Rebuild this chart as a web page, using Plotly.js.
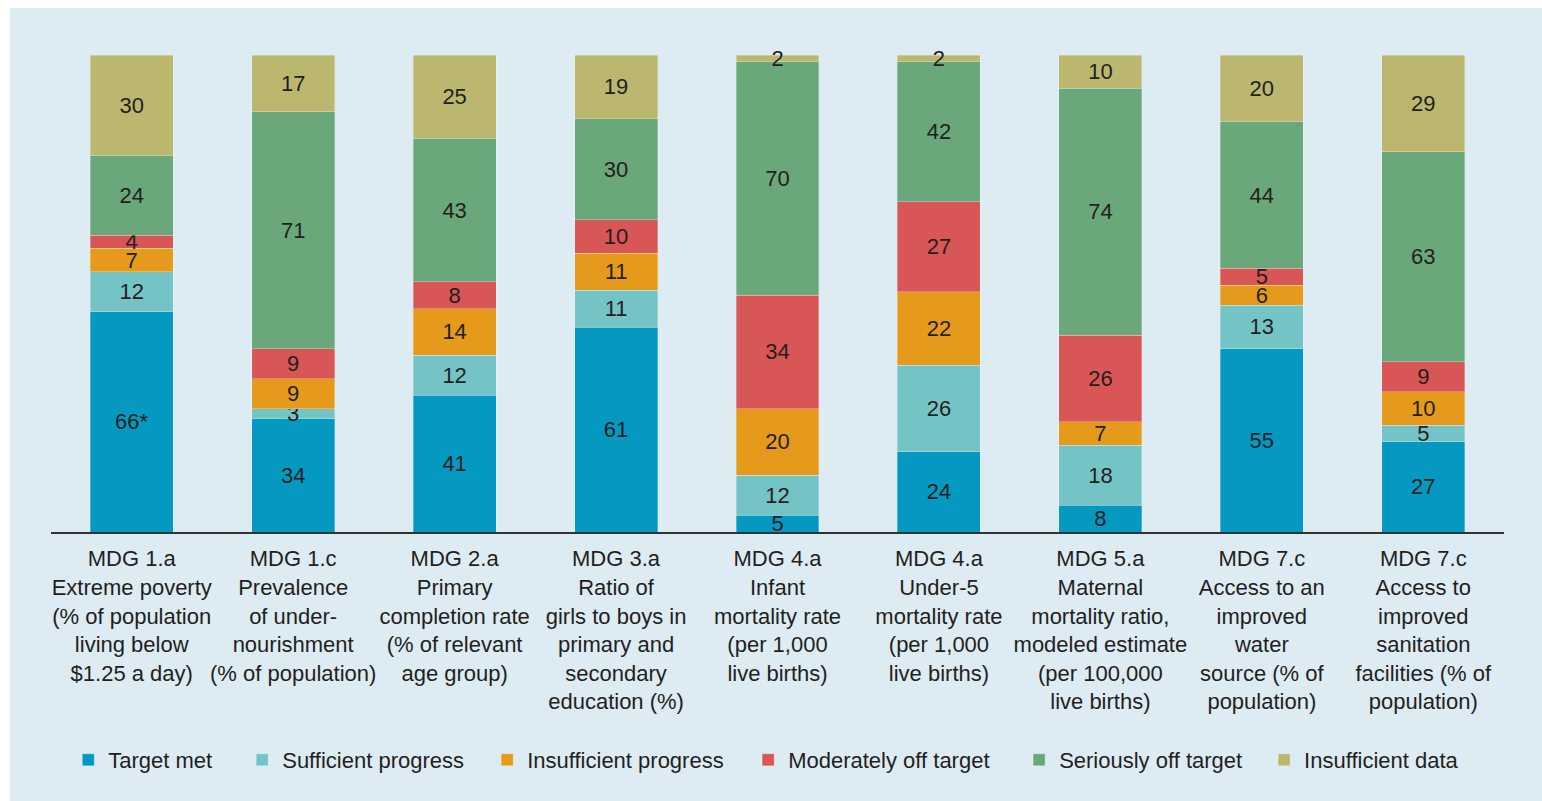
<!DOCTYPE html>
<html>
<head>
<meta charset="utf-8">
<script src="https://cdn.plot.ly/plotly-3.0.1.min.js"></script>
<style>
  html, body { margin: 0; padding: 0; background: #ffffff; }
  #chart { position: absolute; left: 10px; top: 8px; width: 1532px; height: 793px; }
</style>
</head>
<body>
<div id="chart"></div>
<script>
const categories = [
  "MDG 1.a<br>Extreme poverty<br>(% of population<br>living below<br>$1.25 a day)",
  "MDG 1.c<br>Prevalence<br>of under-<br>nourishment<br>(% of population)",
  "MDG 2.a<br>Primary<br>completion rate<br>(% of relevant<br>age group)",
  "MDG 3.a<br>Ratio of<br>girls to boys in<br>primary and<br>secondary<br>education (%)",
  "MDG 4.a<br>Infant<br>mortality rate<br>(per 1,000<br>live births)",
  "MDG 4.a<br>Under-5<br>mortality rate<br>(per 1,000<br>live births)",
  "MDG 5.a<br>Maternal<br>mortality ratio,<br>modeled estimate<br>(per 100,000<br>live births)",
  "MDG 7.c<br>Access to an<br>improved<br>water<br>source (% of<br>population)",
  "MDG 7.c<br>Access to<br>improved<br>sanitation<br>facilities (% of<br>population)"
];

const seriesNames = ["Target met", "Sufficient progress", "Insufficient progress",
                     "Moderately off target", "Seriously off target", "Insufficient data"];

const targetMet            = [66, 34, 41, 61,  5, 24,  8, 55, 27];
const sufficientProgress   = [12,  3, 12, 11, 12, 26, 18, 13,  5];
const insufficientProgress = [ 7,  9, 14, 11, 20, 22,  7,  6, 10];
const moderatelyOffTarget  = [ 4,  9,  8, 10, 34, 27, 26,  5,  9];
const seriouslyOffTarget   = [24, 71, 43, 30, 70, 42, 74, 44, 63];
const insufficientData     = [30, 17, 25, 19,  2,  2, 10, 20, 29];

const labelNotes = ["*", "", "", "", "", "", "", "", ""]; // asterisk on first "Target met" value

const colors = ["#0598c0", "#74c4c6", "#e59a1b", "#d85656", "#6aa87b", "#bbb76e"];

// horizontal positions (paper fraction) of each legend entry
const legendX = [0.0119, 0.1316, 0.3002, 0.4798, 0.6663, 0.8349];

const allSeries = [targetMet, sufficientProgress, insufficientProgress,
                   moderatelyOffTarget, seriouslyOffTarget, insufficientData];

const FONT = "Liberation Sans, Arial, sans-serif";
const legendIds = ["legend", "legend2", "legend3", "legend4", "legend5", "legend6"];

const traces = allSeries.map((vals, i) => ({
  type: "bar",
  name: seriesNames[i],
  legend: legendIds[i],
  x: categories,
  y: vals,
  text: vals.map((v, j) => String(v) + (i === 0 ? labelNotes[j] : "")),
  textposition: "inside",
  insidetextanchor: "middle",
  textangle: 0,
  textfont: { family: FONT, size: 22, color: "#231f20" },
  marker: { color: colors[i], line: { width: 0.8, color: "rgba(255,255,255,0.35)" } },
  cliponaxis: false,
  hoverinfo: "name+y"
}));

const layout = {
  barmode: "stack",
  barnorm: "percent",
  bargap: 0.486,
  paper_bgcolor: "#ddebf3",
  plot_bgcolor: "#ddebf3",
  margin: { l: 41, r: 38, t: 47, b: 269 },
  font: { family: FONT, size: 22, color: "#231f20" },
  uniformtext: { mode: "show", minsize: 22 },
  showlegend: true,
  xaxis: {
    type: "category",
    showline: true,
    linecolor: "#333333",
    linewidth: 2,
    ticks: "",
    showgrid: false,
    tickfont: { family: FONT, size: 22, color: "#231f20" },
    tickangle: 0,
    ticklabelstandoff: 6,
    automargin: false
  },
  yaxis: {
    range: [0, 100],
    visible: false,
    showgrid: false,
    zeroline: false,
    fixedrange: true
  }
};

legendIds.forEach((id, i) => {
  layout[id] = {
    orientation: "h",
    x: legendX[i], xanchor: "left",
    y: -0.478, yanchor: "middle",
    font: { family: FONT, size: 22, color: "#231f20" },
    bgcolor: "rgba(0,0,0,0)",
    borderwidth: 0
  };
});

Plotly.newPlot("chart", traces, layout, { displayModeBar: false, responsive: false });
</script>
</body>
</html>
